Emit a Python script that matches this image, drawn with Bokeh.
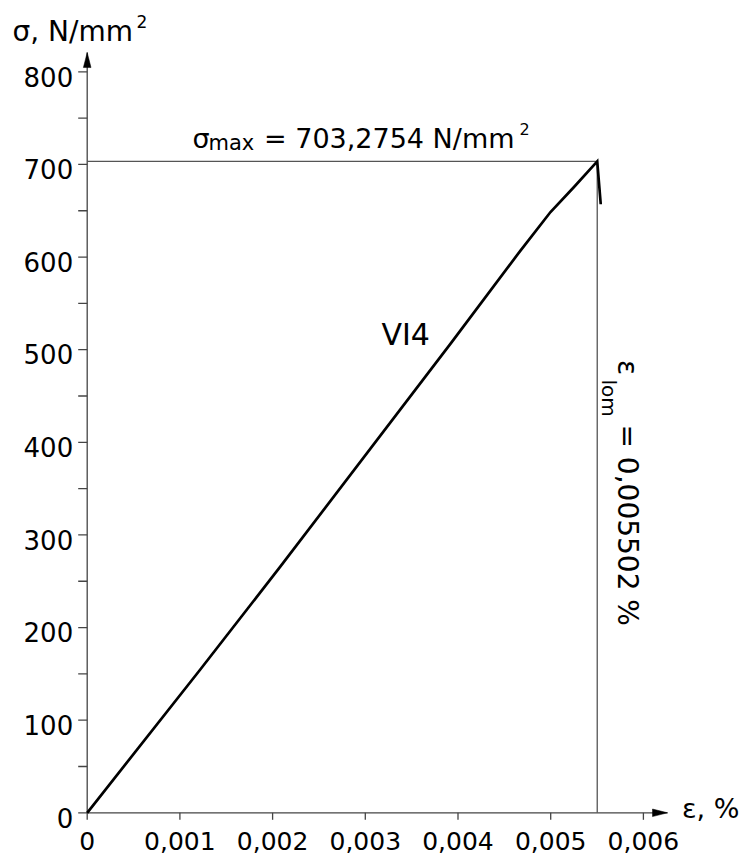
import math
from bokeh.plotting import figure
from bokeh.models import Label, LabelSet, ColumnDataSource, Range1d
from bokeh.core.properties import value
from bokeh.embed import file_html
from bokeh.resources import INLINE

# ---- data ----
eps = [0, 0.001222, 0.002085, 0.00392, 0.004674, 0.004998, 0.005249, 0.005502, 0.00554]
sigma = [0, 155, 266, 506.5, 607, 648.6, 675.4, 703.2754, 657]
sigma_max = 703.2754
eps_lom = 0.005502
x_ticks = [0, 0.001, 0.002, 0.003, 0.004, 0.005, 0.006]
x_tick_labels = ["0", "0,001", "0,002", "0,003", "0,004", "0,005", "0,006"]
y_ticks = [0, 100, 200, 300, 400, 500, 600, 700, 800]
y_tick_labels = ["0", "100", "200", "300", "400", "500", "600", "700", "800"]
y_minor_ticks = [50, 150, 250, 350, 450, 550, 650, 750]
x_axis_end = 0.00626
y_axis_end = 820.8
series_name = "VI4"
y_title = "σ, N/mm"
x_title = "ε, %"
sigma_max_text = "= 703,2754 N/mm"
eps_lom_text = "= 0,005502 %"

FONT = "DejaVu Sans"
W, H = 749, 856
X0, Y0 = 86.7, 812.3              # pixel position of the data origin
KX = 92700.0                      # px per unit strain
KY = 0.92625                      # px per N/mm2

def dx(px):
    return (px - X0) / KX

def dy(py):
    return (Y0 - py) / KY

p = figure(width=W, height=H, output_backend="svg", toolbar_location=None,
           x_axis_type=None, y_axis_type=None,
           x_range=Range1d(dx(0), dx(W)), y_range=Range1d(dy(H), dy(0)),
           min_border_left=0, min_border_top=0, min_border_right=0,
           min_border_bottom=0)
p.outline_line_color = None
p.grid.visible = False
p.background_fill_color = "white"
p.border_fill_color = "white"

AX = "#444444"
AXW = 1.3
# axis lines
p.line([0, 0], [0, y_axis_end], line_color=AX, line_width=AXW)
p.line([0, x_axis_end], [0, 0], line_color=AX, line_width=AXW)
# ticks
p.segment(x0=[-9 / KX] * len(y_ticks), y0=y_ticks, x1=[0] * len(y_ticks), y1=y_ticks,
          line_color=AX, line_width=AXW)
p.segment(x0=[-9 / KX] * len(y_minor_ticks), y0=y_minor_ticks,
          x1=[0] * len(y_minor_ticks), y1=y_minor_ticks, line_color=AX, line_width=AXW)
p.segment(x0=x_ticks, y0=[0] * len(x_ticks), x1=x_ticks, y1=[-7 / KY] * len(x_ticks),
          line_color=AX, line_width=AXW)

# axis arrowheads (long, narrow triangles at the axis ends)
AL, AW = 15, 3.8  # px
p.patch([-AW / KX, 0, AW / KX],
        [y_axis_end - AL / KY, y_axis_end, y_axis_end - AL / KY],
        fill_color="black", line_color="black", line_width=0.5)
p.patch([x_axis_end - AL / KX, x_axis_end, x_axis_end - AL / KX],
        [AW / KY, 0, -AW / KY],
        fill_color="black", line_color="black", line_width=0.5)

# tick labels (anchor = text baseline)
ysrc = ColumnDataSource(dict(x=[-14 / KX] * len(y_ticks),
                             y=[t - 14.7 / KY for t in y_ticks],
                             text=y_tick_labels))
p.add_layout(LabelSet(x="x", y="y", text="text", source=ysrc,
                      text_font=value(FONT), text_font_size="26px",
                      text_color="black", text_align="right",
                      text_baseline="alphabetic"))
xsrc = ColumnDataSource(dict(x=x_ticks, y=[-37.2 / KY] * len(x_ticks),
                             text=x_tick_labels))
p.add_layout(LabelSet(x="x", y="y", text="text", source=xsrc,
                      text_font=value(FONT), text_font_size="25px",
                      text_color="black", text_align="center",
                      text_baseline="alphabetic"))

# guide lines
GC = "#555555"
p.line([0, eps_lom], [sigma_max, sigma_max], line_color=GC, line_width=1.3)
p.line([eps_lom, eps_lom], [0, sigma_max], line_color=GC, line_width=1.3)

# curve
p.line(eps, sigma, line_color="black", line_width=2.7, line_join="miter")

def lab(text, px, py, size, angle=0.0):
    # Label anchors at the vertical centre of the capitals
    p.add_layout(Label(x=dx(px), y=dy(py), text=text, text_font=FONT,
                       text_font_size=f"{size}px", text_color="black",
                       text_align="left", text_baseline="alphabetic",
                       angle=angle))

# axis titles
lab(y_title, 12, 30.7, 28)
lab("2", 136, 21, 17)
lab(x_title, 681.5, 808, 27)

# sigma max annotation
lab("σ", 192, 138, 27)
lab("max", 208, 142, 21)
lab(sigma_max_text, 263.5, 138, 27)
lab("2", 519, 128, 16)

# eps lom annotation (rotated, reading downward)
rot = -math.pi / 2
lab("ε", 627, 359.5, 28, rot)
lab("lom", 608, 379, 20, rot)
lab(eps_lom_text, 627, 424, 28, rot)

# series label
lab(series_name, 381, 334, 30)

open("out.html", "w").write(file_html(p, INLINE))
